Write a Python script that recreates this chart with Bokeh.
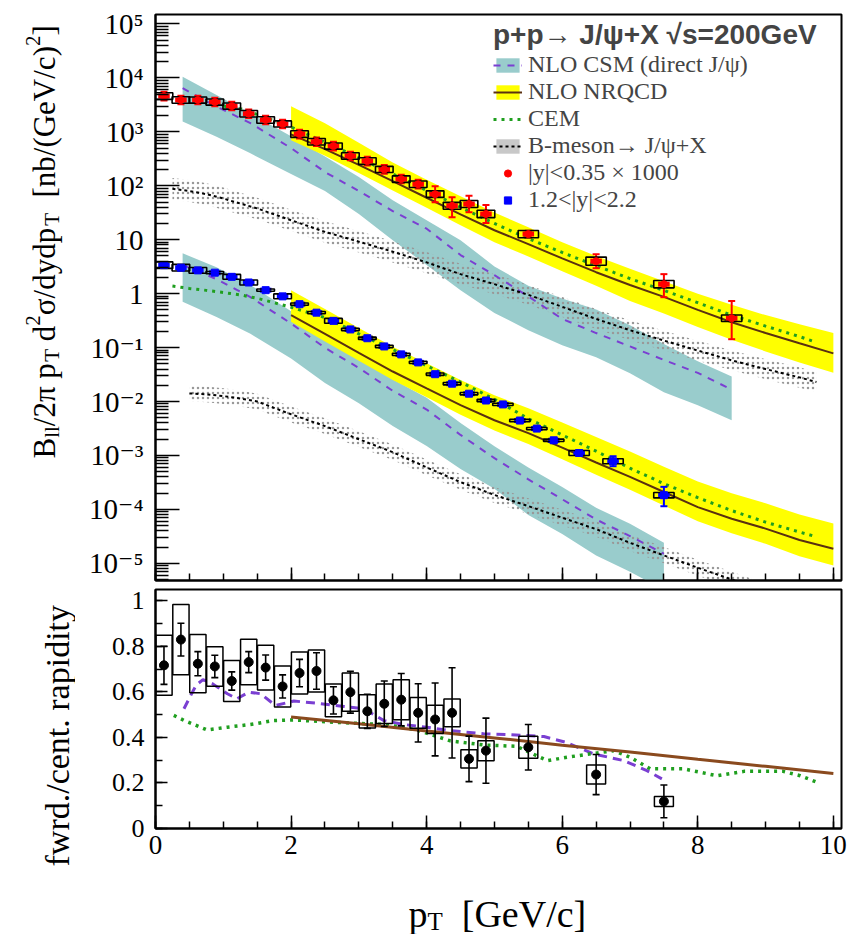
import math
from bokeh.plotting import figure
from bokeh.layouts import row, column
from bokeh.models import (Range1d, FixedTicker, CustomJSTickFormatter, Legend,
                          LegendItem, ColumnDataSource)
from bokeh.core.properties import value
from bokeh.embed import file_html
from bokeh.resources import INLINE

SERIF = "Liberation Serif, Times New Roman, Times, DejaVu Serif, serif"
SANS = "Liberation Sans, Arial, Helvetica, sans-serif"

# ---------------------------------------------------------------------------
# Measured J/psi yields  B_ll/(2 pi pT) d2sigma/dy dpT  [nb/(GeV/c)^2]
# ---------------------------------------------------------------------------
# |y| < 0.35, scaled by 1000
mid_pt = [0.125, 0.375, 0.625, 0.875, 1.125, 1.375, 1.625, 1.875, 2.125, 2.375,
          2.625, 2.875, 3.125, 3.375, 3.625, 3.875, 4.125, 4.375, 4.625, 4.875,
          5.5, 6.5, 7.5, 8.5]
mid_val = [4610, 3890, 3890, 3570, 3010, 2170, 1660, 1400, 910, 655,
           545, 356, 287, 201, 133, 107, 70, 42.5, 46, 30,
           12.7, 4.0, 1.5, 0.35]
mid_stat_lo = [775, 655, 655, 600, 505, 365, 280, 235, 155, 110,
               92, 60, 48, 34, 22, 18, 20.7, 16.3, 13.6, 9.6,
               1.7, 1.04, 0.64, 0.207]
mid_stat_hi = [930, 785, 785, 720, 610, 440, 335, 285, 185, 132,
               110, 72, 58, 41, 27, 22, 28, 19, 19.5, 14,
               1.9, 1.4, 0.8, 0.38]
mid_sys = [0.15, 0.15, 0.14, 0.14, 0.14, 0.15, 0.15, 0.14, 0.15, 0.15,
           0.14, 0.15, 0.15, 0.14, 0.15, 0.15, 0.15, 0.16, 0.16, 0.17,
           0.17, 0.19, 0.17, 0.15]

# 1.2 < |y| < 2.2
fwd_pt = [0.125, 0.375, 0.625, 0.875, 1.125, 1.375, 1.625, 1.875, 2.125, 2.375,
          2.625, 2.875, 3.125, 3.375, 3.625, 3.875, 4.125, 4.375, 4.625, 4.875,
          5.125, 5.375, 5.625, 5.875, 6.25, 6.75, 7.5]
fwd_val = [3.38, 3.03, 2.70, 2.45, 2.05, 1.61, 1.16, 0.891, 0.638, 0.444,
           0.313, 0.217, 0.149, 0.105, 0.0748, 0.0531, 0.0321, 0.0214, 0.01396, 0.01044,
           0.00883, 0.00444, 0.00315, 0.00191, 0.00111, 0.00078, 0.000183]
fwd_stat_rel_lo = [0.03, 0.03, 0.03, 0.03, 0.03, 0.03, 0.03, 0.03, 0.03, 0.03,
                   0.04, 0.04, 0.04, 0.04, 0.05, 0.05, 0.05, 0.06, 0.06, 0.07,
                   0.07, 0.08, 0.09, 0.10, 0.12, 0.19, 0.375]
fwd_stat_rel_hi = [0.03, 0.03, 0.03, 0.03, 0.03, 0.03, 0.03, 0.03, 0.03, 0.03,
                   0.04, 0.04, 0.04, 0.04, 0.05, 0.05, 0.05, 0.06, 0.06, 0.07,
                   0.07, 0.08, 0.09, 0.10, 0.13, 0.24, 0.43]
fwd_sys = [0.15, 0.15, 0.13, 0.05, 0.11, 0.11, 0.05, 0.11, 0.05, 0.05,
           0.11, 0.05, 0.05, 0.05, 0.05, 0.05, 0.05, 0.05, 0.05, 0.05,
           0.05, 0.05, 0.05, 0.05, 0.11, 0.11, 0.12]

# forward / central ratio
ratio_pt = [0.125, 0.375, 0.625, 0.875, 1.125, 1.375, 1.625, 1.875, 2.125, 2.375,
            2.625, 2.875, 3.125, 3.375, 3.625, 3.875, 4.125, 4.375, 4.625, 4.875,
            5.5, 6.5, 7.5]
ratio_val = [0.717, 0.830, 0.724, 0.712, 0.648, 0.731, 0.707, 0.624, 0.683, 0.692,
             0.563, 0.599, 0.515, 0.548, 0.566, 0.508, 0.479, 0.508, 0.306, 0.342,
             0.357, 0.237, 0.119]
ratio_stat = [0.084, 0.072, 0.053, 0.049, 0.040, 0.046, 0.055, 0.051, 0.060, 0.080,
              0.060, 0.092, 0.075, 0.100, 0.115, 0.128, 0.160, 0.198, 0.100, 0.143,
              0.100, 0.088, 0.072]
ratio_sys = [0.132, 0.154, 0.128, 0.087, 0.090, 0.100, 0.098, 0.090, 0.092, 0.092,
             0.072, 0.084, 0.073, 0.087, 0.088, 0.068, 0.062, 0.061, 0.040, 0.044,
             0.048, 0.042, 0.022]

# ---------------------------------------------------------------------------
# Model curves
# ---------------------------------------------------------------------------
# NLO CSM (direct J/psi)
csm_pt = [0.4, 0.9, 1.4, 2.0, 2.5, 3.0, 3.5, 4.0, 4.5, 5.0, 5.5, 6.0, 6.5, 7.0, 7.5, 8.0, 8.5]
csm_mid_hi = [10500, 4800, 2200, 830, 350, 145, 54, 23, 9.8, 3.2, 1.4, 0.81, 0.51, 0.26, 0.117, 0.056, 0.029]
csm_mid_c = [6450, 2950, 1450, 500, 180, 80, 34, 16, 5.2, 2.2, 0.89, 0.34, 0.186, 0.105, 0.059, 0.034, 0.0166]
csm_mid_lo = [1550, 810, 400, 165, 80, 30, 9.8, 3.4, 1.16, 0.44, 0.21, 0.11, 0.066, 0.0335, 0.0148, 0.0085, 0.0045]
csm_fwd_pt = [0.4, 0.9, 1.4, 2.0, 2.5, 3.0, 3.5, 4.0, 4.5, 5.0, 5.5, 6.0, 6.5, 7.0, 7.5]
csm_fwd_hi = [5.6, 3.1, 1.45, 0.47, 0.166, 0.071, 0.026, 0.0117, 0.004, 0.00148, 6.0e-4, 2.6e-4, 1.07e-4, 5.4e-5, 2.4e-5]
csm_fwd_c = [3.4, 1.86, 0.865, 0.28, 0.099, 0.042, 0.0158, 0.0071, 0.0024, 8.9e-4, 3.6e-4, 1.54e-4, 6.5e-5, 3.2e-5, 1.5e-5]
csm_fwd_lo = [0.71, 0.37, 0.18, 0.063, 0.022, 0.0093, 0.0035, 0.0015, 5.6e-4, 2.4e-4, 7.9e-5, 3.5e-5, 1.4e-5, 7e-6, 3.2e-6]

# NLO NRQCD
nrqcd_pt = [2.0, 2.5, 3.0, 3.5, 4.0, 4.5, 5.0, 5.5, 6.0, 6.5, 7.0, 7.5, 8.0, 8.5, 9.0, 9.5, 10.0]
nrqcd_mid_hi = [2970, 1440, 630, 270, 130, 64, 32, 17, 9.0, 5.0, 2.9, 1.7, 1.0, 0.62, 0.40, 0.27, 0.187]
nrqcd_mid_c = [900, 480, 245, 122, 60, 29.5, 15, 8.3, 4.5, 2.5, 1.45, 0.87, 0.50, 0.295, 0.186, 0.12, 0.078]
nrqcd_mid_lo = [700, 360, 172, 82, 39, 18.5, 9.0, 4.9, 2.6, 1.4, 0.73, 0.43, 0.24, 0.14, 0.085, 0.053, 0.034]
nrqcd_fwd_hi = [1.16, 0.52, 0.23, 0.104, 0.051, 0.025, 0.013, 0.0075, 0.0041, 0.0022, 0.00118, 6.2e-4, 3.3e-4, 2.0e-4, 1.3e-4, 8.0e-5, 5.5e-5]
nrqcd_fwd_c = [0.40, 0.18, 0.08, 0.036, 0.0175, 0.0086, 0.0045, 0.0026, 1.4e-3, 7.4e-4, 4.0e-4, 2.1e-4, 1.1e-4, 6.7e-5, 4.4e-5, 2.7e-5, 1.86e-5]
nrqcd_fwd_lo = [0.30, 0.13, 0.057, 0.025, 0.012, 0.0057, 0.0029, 0.00163, 8.5e-4, 4.4e-4, 2.3e-4, 1.18e-4, 6.0e-5, 3.6e-5, 2.3e-5, 1.35e-5, 9.1e-6]

# CEM
cem_mid_pt = [1.0, 1.25, 1.5, 2.0, 2.5, 3.0, 3.5, 4.0, 4.5, 5.0, 5.5, 6.0, 6.5, 7.0, 7.5, 8.0, 8.5, 9.0, 9.5, 9.75]
cem_mid_val = [3000, 2700, 2100, 1230, 640, 330, 165, 82, 40, 20, 10.5, 5.8, 3.3, 1.9, 1.15, 0.68, 0.40, 0.25, 0.16, 0.125]
cem_fwd_pt = [0.25, 0.5, 0.75, 1.0, 1.25, 1.5, 1.75, 2.0, 2.5, 3.0, 3.5, 4.0, 4.5, 5.0, 5.5, 6.0,
              6.5, 7.0, 7.5, 8.0, 8.5, 9.0, 9.5, 9.75]
cem_fwd_val = [1.38, 1.25, 1.15, 1.05, 0.95, 0.82, 0.68, 0.56, 0.36, 0.18, 0.092, 0.046, 0.023, 0.011, 0.0048, 0.0024,
               0.0012, 5.8e-4, 3.0e-4, 1.65e-4, 9.5e-5, 5.8e-5, 3.8e-5, 3.1e-5]

# B-meson -> J/psi + X
bm_mid_pt = [0.25, 0.5, 0.75, 1.0, 1.5, 2.0, 2.5, 3.0, 3.5, 4.0, 4.5, 5.0, 5.5, 6.0, 6.5, 7.0, 7.5,
             8.0, 8.5, 9.0, 9.5, 9.75]
bm_mid_c = [88, 80, 70, 58, 38, 23, 14, 9.2, 6.0, 3.8, 2.3, 1.5, 0.95, 0.57, 0.34, 0.21, 0.135,
            0.088, 0.058, 0.040, 0.028, 0.023]
bm_mid_hi = [140, 128, 112, 93, 60, 36, 22, 14.5, 9.4, 5.9, 3.6, 2.3, 1.45, 0.87, 0.52, 0.32, 0.205,
             0.134, 0.088, 0.061, 0.043, 0.035]
bm_mid_lo = [55, 50, 44, 36, 24, 14.5, 8.8, 5.8, 3.8, 2.4, 1.5, 0.98, 0.62, 0.37, 0.22, 0.137, 0.088,
             0.057, 0.038, 0.026, 0.018, 0.015]
bm_fwd_pt = [0.5, 0.75, 1.0, 1.25, 1.5, 2.0, 2.5, 3.0, 3.5, 4.0, 4.5, 5.0, 5.5, 6.0, 6.5, 7.0, 7.5,
             8.0, 8.5, 9.0]
bm_fwd_c = [0.0141, 0.0136, 0.0126, 0.0114, 0.0100, 0.0058, 0.0035, 0.0020, 0.00115, 6.0e-4, 3.2e-4,
            1.85e-4, 1.15e-4, 7.0e-5, 4.3e-5, 2.4e-5, 1.4e-5, 8.3e-6, 5.0e-6, 3.0e-6]
bm_fwd_hi = [0.0197, 0.019, 0.0176, 0.016, 0.014, 0.0081, 0.0049, 0.0028, 0.0016, 8.4e-4, 4.5e-4,
             2.6e-4, 1.6e-4, 9.8e-5, 6.0e-5, 3.4e-5, 2.0e-5, 1.16e-5, 7.0e-6, 4.2e-6]
bm_fwd_lo = [0.0101, 0.0097, 0.009, 0.0081, 0.0071, 0.0041, 0.0025, 0.00143, 8.2e-4, 4.3e-4, 2.3e-4,
             1.32e-4, 8.2e-5, 5.0e-5, 3.1e-5, 1.7e-5, 1.0e-5, 5.9e-6, 3.6e-6, 2.1e-6]

# ratio panel model curves
ratio_csm_pt = [0.42, 0.52, 0.6, 0.7, 0.84, 1.06, 1.2, 1.38, 1.55, 1.77, 2.04, 2.39, 2.78, 3.07,
                3.37, 3.66, 4.0, 4.35, 4.84, 5.19, 5.73, 6.05, 6.46, 6.91, 7.25, 7.47]
ratio_csm_val = [0.526, 0.585, 0.63, 0.654, 0.636, 0.592, 0.57, 0.599, 0.592, 0.54, 0.56, 0.55, 0.536,
                 0.526, 0.474, 0.457, 0.445, 0.43, 0.416, 0.413, 0.404, 0.379, 0.328, 0.298, 0.254, 0.218]
ratio_cem_pt = [0.27, 0.42, 0.76, 1.06, 1.4, 1.74, 2.04, 2.39, 2.88, 3.37, 3.86, 4.35, 4.84, 5.33,
                5.78, 6.07, 6.42, 6.76, 7.0, 7.3, 7.79, 8.28, 8.68, 9.26, 9.51, 9.76]
ratio_cem_val = [0.497, 0.475, 0.433, 0.445, 0.457, 0.474, 0.477, 0.471, 0.463, 0.457, 0.433, 0.385,
                 0.367, 0.361, 0.298, 0.313, 0.328, 0.342, 0.313, 0.262, 0.262, 0.232, 0.251, 0.251,
                 0.232, 0.203]
ratio_nrqcd_pt = [2.0, 3.0, 4.0, 5.0, 6.0, 7.0, 8.0, 9.0, 10.0]
ratio_nrqcd_val = [0.490, 0.460, 0.428, 0.398, 0.366, 0.336, 0.304, 0.273, 0.242]

# axis ticks
log_major = [1e-5, 1e-4, 1e-3, 1e-2, 1e-1, 1, 10, 1e2, 1e3, 1e4, 1e5]
x_major = [0, 2, 4, 6, 8, 10]
ratio_major = [0, 0.2, 0.4, 0.6, 0.8, 1.0]

# ---------------------------------------------------------------------------
TEAL = "#99cccc"
YELLOW = "#ffff00"
PURPLE = "#7a3fd2"
BROWN = "#5a3010"
BROWN2 = "#8a4a1e"
GREEN = "#1f9f1f"
RED = "#ff0000"
BLUE = "#0000ff"

X_RANGE = (0, 10.12)


def style_axes(p, y_major_in, y_minor_in):
    p.grid.visible = False
    p.outline_line_color = "black"
    p.outline_line_width = 2
    for ax in (p.xaxis[0], p.yaxis[0]):
        ax.axis_line_width = 2
        ax.major_tick_out = 0
        ax.minor_tick_out = 0
        ax.major_tick_line_width = 1.5
        ax.minor_tick_line_width = 1.5
        ax.major_label_text_font = SERIF
        ax.major_label_text_color = "black"
    p.xaxis.major_tick_in = 13
    p.xaxis.minor_tick_in = 7
    p.yaxis.major_tick_in = y_major_in
    p.yaxis.minor_tick_in = y_minor_in
    p.xaxis.ticker = FixedTicker(ticks=x_major, minor_ticks=[0.5 * i for i in range(21)])


# ------------------------------ upper panel --------------------------------
top = figure(frame_width=686, frame_height=566, min_border_left=80, min_border_right=8,
             min_border_top=14, min_border_bottom=5, align="start",
             x_range=Range1d(*X_RANGE), y_range=Range1d(4.8e-6, 1.5e5), y_axis_type="log",
             output_backend="svg", toolbar_location=None)
style_axes(top, 24, 13)
minor_log = [k * 10.0 ** e for e in range(-6, 6) for k in range(2, 10)]
top.yaxis.ticker = FixedTicker(ticks=log_major, minor_ticks=minor_log)
top.yaxis.formatter = CustomJSTickFormatter(code="""
    const e = Math.round(Math.log10(tick));
    if (e == 0) return "1";
    if (e == 1) return "10";
    const sup = {"-": "\u207b", "0": "\u2070", "1": "\u00b9", "2": "\u00b2", "3": "\u00b3",
                 "4": "\u2074", "5": "\u2075", "6": "\u2076", "7": "\u2077", "8": "\u2078", "9": "\u2079"};
    return "10" + String(e).split("").map(c => sup[c]).join("");
""")
top.yaxis.major_label_text_font_size = "29px"
top.yaxis.major_label_standoff = 12
top.xaxis.formatter = CustomJSTickFormatter(code="return '';")
top.xaxis.major_label_standoff = 0

# bands
csm_band = top.varea(x=csm_pt, y1=csm_mid_lo, y2=csm_mid_hi, fill_color=TEAL)
top.varea(x=csm_fwd_pt, y1=csm_fwd_lo, y2=csm_fwd_hi, fill_color=TEAL)
nrqcd_band = top.varea(x=nrqcd_pt, y1=nrqcd_mid_lo, y2=nrqcd_mid_hi, fill_color=YELLOW)
top.varea(x=nrqcd_pt, y1=nrqcd_fwd_lo, y2=nrqcd_fwd_hi, fill_color=YELLOW)
for xs, lo, hi in ((bm_mid_pt, bm_mid_lo, bm_mid_hi), (bm_fwd_pt, bm_fwd_lo, bm_fwd_hi)):
    top.varea(x=xs, y1=lo, y2=hi, fill_alpha=0, hatch_pattern="dot", hatch_color="#999999",
              hatch_scale=5, hatch_weight=1.5)
# solid grey swatch for the B-meson legend entry (no visible data)
bm_key = top.varea(source=ColumnDataSource(dict(x=[5.0], y1=[float("nan")], y2=[float("nan")])),
                   x="x", y1="y1", y2="y2", fill_color="#c8c8c8")

# central curves
csm_line = top.line(csm_pt, csm_mid_c, line_color=PURPLE, line_width=2, line_dash="7 7")
top.line(csm_fwd_pt, csm_fwd_c, line_color=PURPLE, line_width=2, line_dash="7 7")
nrqcd_line = top.line(nrqcd_pt, nrqcd_mid_c, line_color=BROWN, line_width=2)
top.line(nrqcd_pt, nrqcd_fwd_c, line_color=BROWN, line_width=2)
bm_line = top.line(bm_mid_pt, bm_mid_c, line_color="black", line_width=2, line_dash="3 3")
top.line(bm_fwd_pt, bm_fwd_c, line_color="black", line_width=2, line_dash="3 3")
cem_line = top.line(cem_mid_pt, cem_mid_val, line_color=GREEN, line_width=3, line_dash="3 5")
top.line(cem_fwd_pt, cem_fwd_val, line_color=GREEN, line_width=3, line_dash="3 5")


def spectrum(p, pt, val, rel_lo, rel_hi, sys, color, marker):
    src = ColumnDataSource(dict(
        x=pt, y=val,
        lo=[v * (1 - r) for v, r in zip(val, rel_lo)],
        hi=[v * (1 + r) for v, r in zip(val, rel_hi)],
        bl=[x - (0.13 if x < 5 else 0.15) for x in pt],
        br=[x + (0.13 if x < 5 else 0.15) for x in pt],
        bx0=[x - 0.085 for x in pt], bx1=[x + 0.085 for x in pt],
        sb=[v / (1 + s) for v, s in zip(val, sys)],
        st=[v * (1 + s) for v, s in zip(val, sys)],
    ))
    p.segment(x0="x", y0="lo", x1="x", y1="hi", source=src, line_color=color, line_width=2)
    p.scatter(x="x", y="lo", source=src, marker="dash", size=7, line_color=color, line_width=2)
    p.scatter(x="x", y="hi", source=src, marker="dash", size=7, line_color=color, line_width=2)
    p.segment(x0="bx0", y0="y", x1="bx1", y1="y", source=src, line_color=color, line_width=5)
    p.quad(left="bl", right="br", bottom="sb", top="st", source=src, fill_alpha=0,
           line_color="black", line_width=1.6)
    return p.scatter(x="x", y="y", source=src, marker=marker, size=7, fill_color=color,
                     line_color=color)


mid_rel_lo = [e / v for e, v in zip(mid_stat_lo, mid_val)]
mid_rel_hi = [e / v for e, v in zip(mid_stat_hi, mid_val)]
mid_pts = spectrum(top, mid_pt, mid_val, mid_rel_lo, mid_rel_hi, mid_sys, RED, "circle")
fwd_pts = spectrum(top, fwd_pt, fwd_val, fwd_stat_rel_lo, fwd_stat_rel_hi, fwd_sys, BLUE, "square")

legend = Legend(items=[
    LegendItem(label="NLO CSM (direct J/\u03c8)", renderers=[csm_band, csm_line]),
    LegendItem(label="NLO NRQCD", renderers=[nrqcd_band, nrqcd_line]),
    LegendItem(label="CEM", renderers=[cem_line]),
    LegendItem(label="B-meson\u2192 J/\u03c8+X", renderers=[bm_key, bm_line]),
    LegendItem(label="|y|<0.35 \u00d7 1000", renderers=[mid_pts]),
    LegendItem(label="1.2<|y|<2.2", renderers=[fwd_pts]),
], location=(336, 365), padding=2, margin=0, spacing=0, glyph_width=29, glyph_height=18,
    label_standoff=6, label_text_font=SERIF, label_text_font_size="24px",
    title="p+p\u2192 J/\u03c8+X \u221as=200GeV", title_text_font=SANS,
    title_text_font_style="bold", title_text_font_size="28px", title_standoff=0,
    background_fill_alpha=0, border_line_alpha=0)
top.add_layout(legend)

# ------------------------------ ratio panel --------------------------------
bot = figure(frame_width=686, frame_height=239, min_border_left=80, min_border_right=8,
             min_border_top=4, min_border_bottom=60, align="start",
             x_range=Range1d(*X_RANGE), y_range=Range1d(0, 1.05),
             output_backend="svg", toolbar_location=None)
style_axes(bot, 12, 7)
bot.yaxis.ticker = FixedTicker(ticks=ratio_major, minor_ticks=[0.1 * i for i in range(11)])
bot.yaxis.formatter = CustomJSTickFormatter(code="return tick.toFixed(1).replace(/\\.0$/, '');")
bot.yaxis.major_label_text_font_size = "26px"
bot.yaxis.major_label_standoff = 11
bot.xaxis.major_label_text_font_size = "27px"
bot.xaxis.major_label_standoff = 7

bot.line(ratio_csm_pt, ratio_csm_val, line_color=PURPLE, line_width=3, line_dash="9 6")
bot.line(ratio_cem_pt, ratio_cem_val, line_color=GREEN, line_width=3.5, line_dash="3 5")
bot.line(ratio_nrqcd_pt, ratio_nrqcd_val, line_color=BROWN2, line_width=3)

rsrc = ColumnDataSource(dict(
    x=ratio_pt, y=ratio_val,
    lo=[v - e for v, e in zip(ratio_val, ratio_stat)],
    hi=[v + e for v, e in zip(ratio_val, ratio_stat)],
    bl=[x - (0.12 if x < 5 else 0.14) for x in ratio_pt],
    br=[x + (0.12 if x < 5 else 0.14) for x in ratio_pt],
    sb=[v - s for v, s in zip(ratio_val, ratio_sys)],
    st=[v + s for v, s in zip(ratio_val, ratio_sys)],
))
bot.quad(left="bl", right="br", bottom="sb", top="st", source=rsrc, fill_alpha=0,
         line_color="black", line_width=1.5)
bot.segment(x0="x", y0="lo", x1="x", y1="hi", source=rsrc, line_color="black", line_width=1.6)
bot.scatter(x="x", y="lo", source=rsrc, marker="dash", size=7, line_color="black", line_width=1.6)
bot.scatter(x="x", y="hi", source=rsrc, marker="dash", size=7, line_color="black", line_width=1.6)
bot.scatter(x="x", y="y", source=rsrc, marker="circle", size=9, fill_color="black",
            line_color="black")

# ------------------------------ axis titles --------------------------------
TIMES_W = {' ': 250, '(': 333, ')': 333, '/': 278, '.': 250, '2': 500, 'B': 667, 'G': 722,
           'T': 611, 'V': 722, '[': 333, ']': 333, 'a': 444, 'b': 500, 'c': 444, 'd': 500,
           'e': 444, 'f': 333, 'i': 278, 'l': 278, 'n': 500, 'p': 500, 'r': 333, 't': 278,
           'w': 722, 'y': 500, '\u03c0': 549, '\u03c3': 603}


def text_width(s, size):
    return sum(TIMES_W.get(c, 500) for c in s) * size / 1000.0


def put_text(fig, x, y, s, size, angle):
    fig.text(x=[x], y=[y], text=[s], angle=angle, text_align="left",
             text_baseline="alphabetic", text_font=value(SERIF),
             text_font_size=f"{size}px", text_color="black")


def vertical_title(fig, pieces, x_base, y_start):
    y = y_start
    for s, size, dx in pieces:
        body = s.lstrip(" ")
        y -= text_width(s[:len(s) - len(body)], size)
        put_text(fig, x_base + dx, y, body, size, math.pi / 2)
        y -= text_width(body, size)


def horizontal_title(fig, pieces, x_start, y_base):
    x = x_start
    for s, size, dy in pieces:
        body = s.lstrip(" ")
        x += text_width(s[:len(s) - len(body)], size)
        put_text(fig, x, y_base + dy, body, size, 0)
        x += text_width(body, size)


def blank_canvas(w, h, xr, yr):
    f = figure(width=w, height=h, x_range=Range1d(*xr), y_range=Range1d(*yr),
               x_axis_type=None, y_axis_type=None, min_border=0, align="start",
               output_backend="svg", toolbar_location=None)
    f.outline_line_color = None
    f.grid.visible = False
    return f


left = blank_canvas(75, 870, (0, 75), (870, 0))
F, FS = 31, 21
vertical_title(left, [("B", F, 0), ("ll", FS, 7), ("/2\u03c0 p", F, 0), ("T", FS, 7),
                      (" d", F, 0), ("2", FS, -12), ("\u03c3/dydp", F, 0), ("T", FS, 7),
                      ("  [nb/(GeV/c)", F, 0), ("2", FS, -12), ("]", F, 0)], 44, 458)
vertical_title(left, [("fwrd./cent. rapidity", 34, 0)], 57, 866)

xtitle = blank_canvas(849, 46, (0, 849), (934, 888))
horizontal_title(xtitle, [("p", 38, 0), ("T", 25, 8), ("  [GeV/c]", 38, 0)], 408, 913)

layout = column(row(left, column(top, bot, align="start"), align="start"), xtitle)
open("out.html", "w").write(file_html(layout, INLINE))
